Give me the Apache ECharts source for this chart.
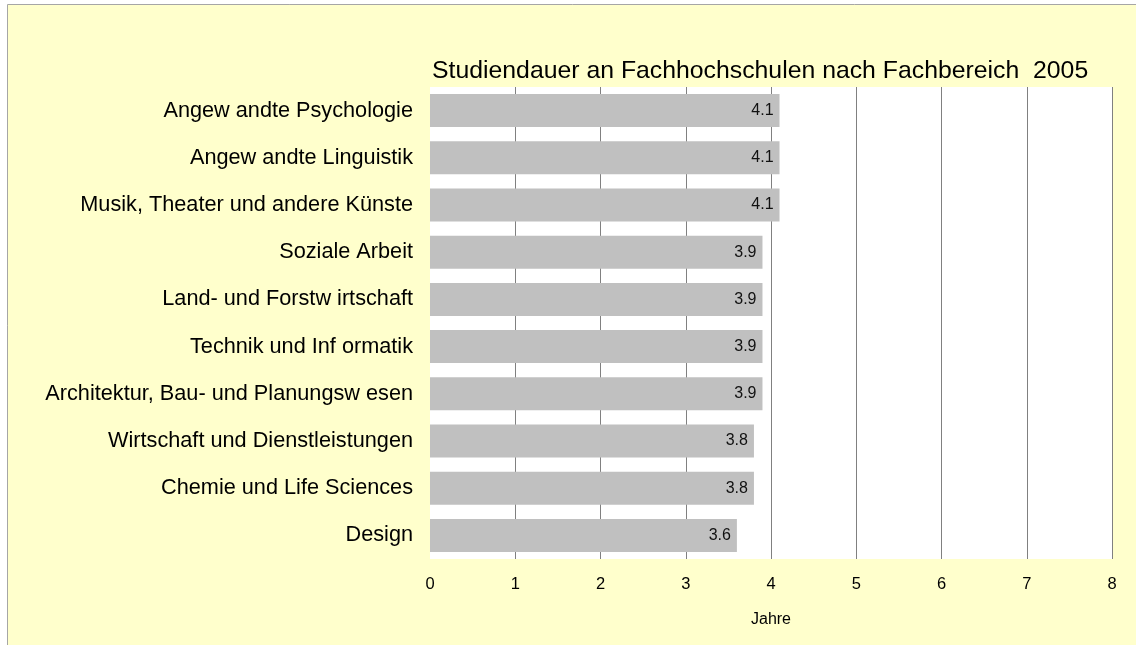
<!DOCTYPE html>
<html>
<head>
<meta charset="utf-8">
<script src="https://cdn.jsdelivr.net/npm/echarts@6/dist/echarts.min.js"></script>
<style>
html,body{margin:0;padding:0;background:#ffffff;}
#chart{width:1136px;height:645px;}
</style>
</head>
<body>
<div id="chart"></div>
<script>
const categories = [
  "Angew andte Psychologie",
  "Angew andte Linguistik",
  "Musik, Theater und andere Künste",
  "Soziale Arbeit",
  "Land- und Forstw irtschaft",
  "Technik und Inf ormatik",
  "Architektur, Bau- und Planungsw esen",
  "Wirtschaft und Dienstleistungen",
  "Chemie und Life Sciences",
  "Design"
];
const values = [4.1, 4.1, 4.1, 3.9, 3.9, 3.9, 3.9, 3.8, 3.8, 3.6];
const titleText = "Studiendauer an Fachhochschulen nach Fachbereich  2005";
const axisName = "Jahre";

const FONT = "'Liberation Sans', Arial, sans-serif";
const chart = echarts.init(document.getElementById('chart'), null, {renderer: 'canvas'});
chart.setOption({
  backgroundColor: '#ffffff',
  animation: false,
  graphic: [{
    type: 'rect', z: -10, silent: true,
    shape: {x: 7.5, y: 4.5, width: 1200, height: 700},
    style: {fill: '#FFFFCC', stroke: '#A6A6A6', lineWidth: 1}
  }],
  title: {
    text: titleText,
    left: 427, top: 54,
    textStyle: {fontFamily: FONT, fontSize: 24.8, fontWeight: 'normal', color: '#000'}
  },
  grid: {
    left: 430, right: 24, top: 87, bottom: 86,
    show: true, backgroundColor: '#ffffff', borderWidth: 0,
    containLabel: false
  },
  xAxis: {
    type: 'value', min: 0, max: 8, interval: 1,
    name: axisName, nameLocation: 'middle', nameGap: 53,
    nameTextStyle: {fontFamily: FONT, fontSize: 16, color: '#000'},
    axisLine: {show: false}, axisTick: {show: false},
    axisLabel: {fontFamily: FONT, fontSize: 16.5, color: '#000', margin: 17},
    splitLine: {show: true, lineStyle: {color: ['rgba(0,0,0,0)', '#808080', '#808080', '#808080', '#808080', '#808080', '#808080', '#808080', '#808080'], width: 1}}
  },
  yAxis: {
    type: 'category', data: categories, inverse: true,
    axisLine: {show: false}, axisTick: {show: false},
    axisLabel: {fontFamily: FONT, fontSize: 21.7, color: '#000', margin: 17}
  },
  series: [{
    type: 'bar', data: values,
    barCategoryGap: '30%',
    itemStyle: {color: '#C0C0C0'},
    label: {show: true, position: 'insideRight', distance: 6,
      fontFamily: FONT, fontSize: 16, color: '#111',
      formatter: p => p.value.toFixed(1)}
  }]
});
</script>
</body>
</html>
